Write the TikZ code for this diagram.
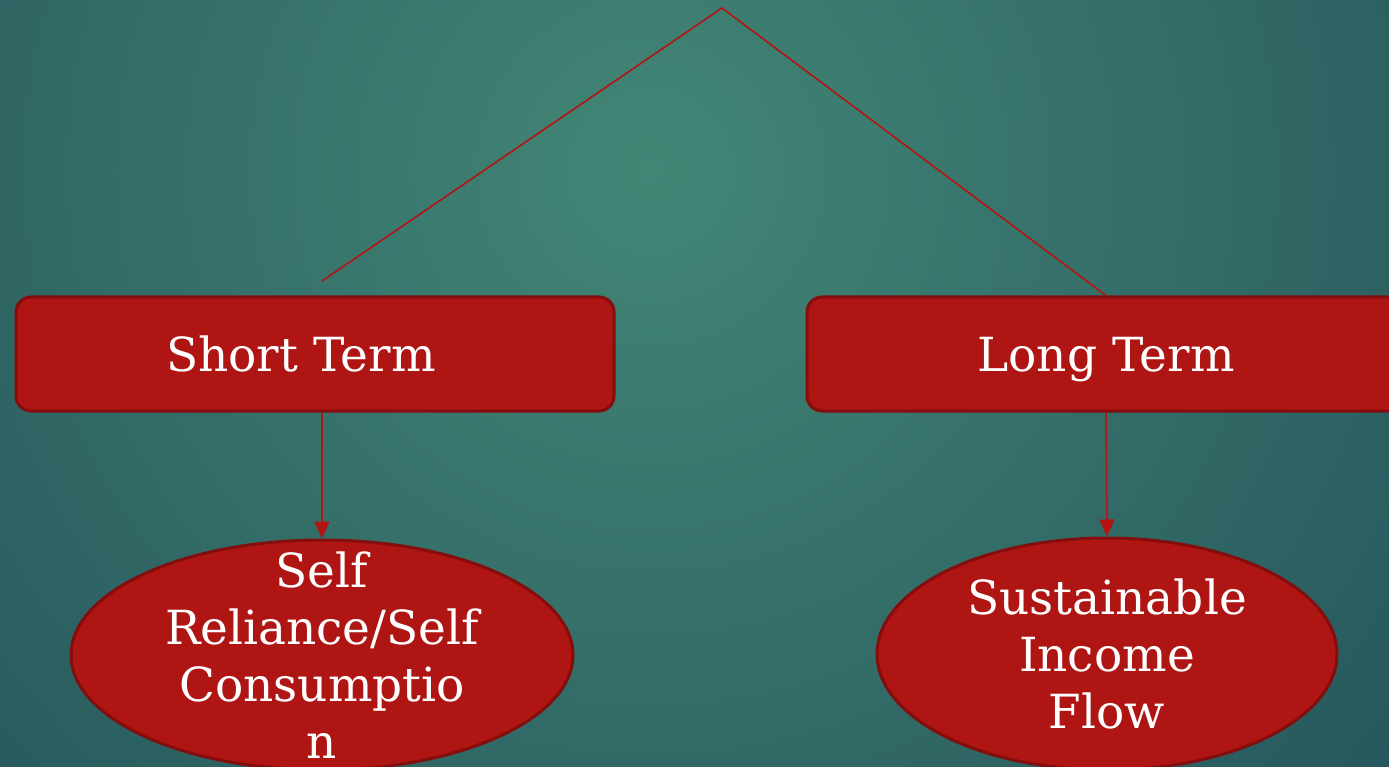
\documentclass[tikz,border=0pt]{standalone}
\usepackage{fontspec}
\setmainfont{DejaVu Serif}
\usetikzlibrary{arrows.meta}
\usetikzlibrary{shapes.geometric}
\definecolor{bgin}{HTML}{428676}
\definecolor{bgout}{HTML}{214E57}
\definecolor{boxred}{HTML}{AF1513}
\definecolor{rimred}{HTML}{840E0E}
\definecolor{linered}{HTML}{B31414}
\tikzset{t/.style={font=\fontsize{47}{57}\selectfont, text=white}}
\tikzset{boxtext/.style={t, text depth=0pt, inner sep=0pt}}
\tikzset{termbox/.style={draw=rimred, line width=3pt, fill=boxred, rounded corners=15pt,
  minimum width=598pt, minimum height=114pt, inner sep=0pt}}
\tikzset{oval/.style={ellipse, draw=rimred, line width=3pt, fill=boxred, inner sep=0pt}}
\tikzset{ovaltext/.style={t, align=center, inner sep=0pt}}
\tikzset{link/.style={draw=linered, line width=1.6pt}}
\tikzset{tip/.style={-{Triangle[length=17pt,width=15pt]}}}

\begin{document}
\begin{tikzpicture}[x=1pt,y=-1pt]
          \useasboundingbox (0,0) rectangle (1389,767);
          \begin{scope}
            \clip (0,0) rectangle (1389,767);
            \shade[inner color=bgin, outer color=bgout] (650,170) circle (1150);
          \end{scope}
          \coordinate (top) at (722,8);
          \coordinate (stend) at (322,281);
          \node[termbox, label={[boxtext, xshift=-14pt]center:Short Term}] (short) at (315,354) {};
          \node[termbox, label={[boxtext]center:Long Term}] (long) at (1106,354) {};
          \node[oval, minimum width=502pt, minimum height=230pt,
            label={[ovaltext]center:Self\\Reliance/Self\\Consumptio\\n}] (self) at (322,655) {};
          \node[oval, minimum width=460pt, minimum height=232pt,
            label={[ovaltext]center:Sustainable\\Income\\Flow}] (income) at (1107,654) {};
          \draw[link] (stend) -- (top) -- (long.north);
          \draw[link, tip] (self.north |- short.south) -- (self.north);
          \draw[link, tip] (long.south) -- (income.north);
        \end{tikzpicture}
\end{document}
